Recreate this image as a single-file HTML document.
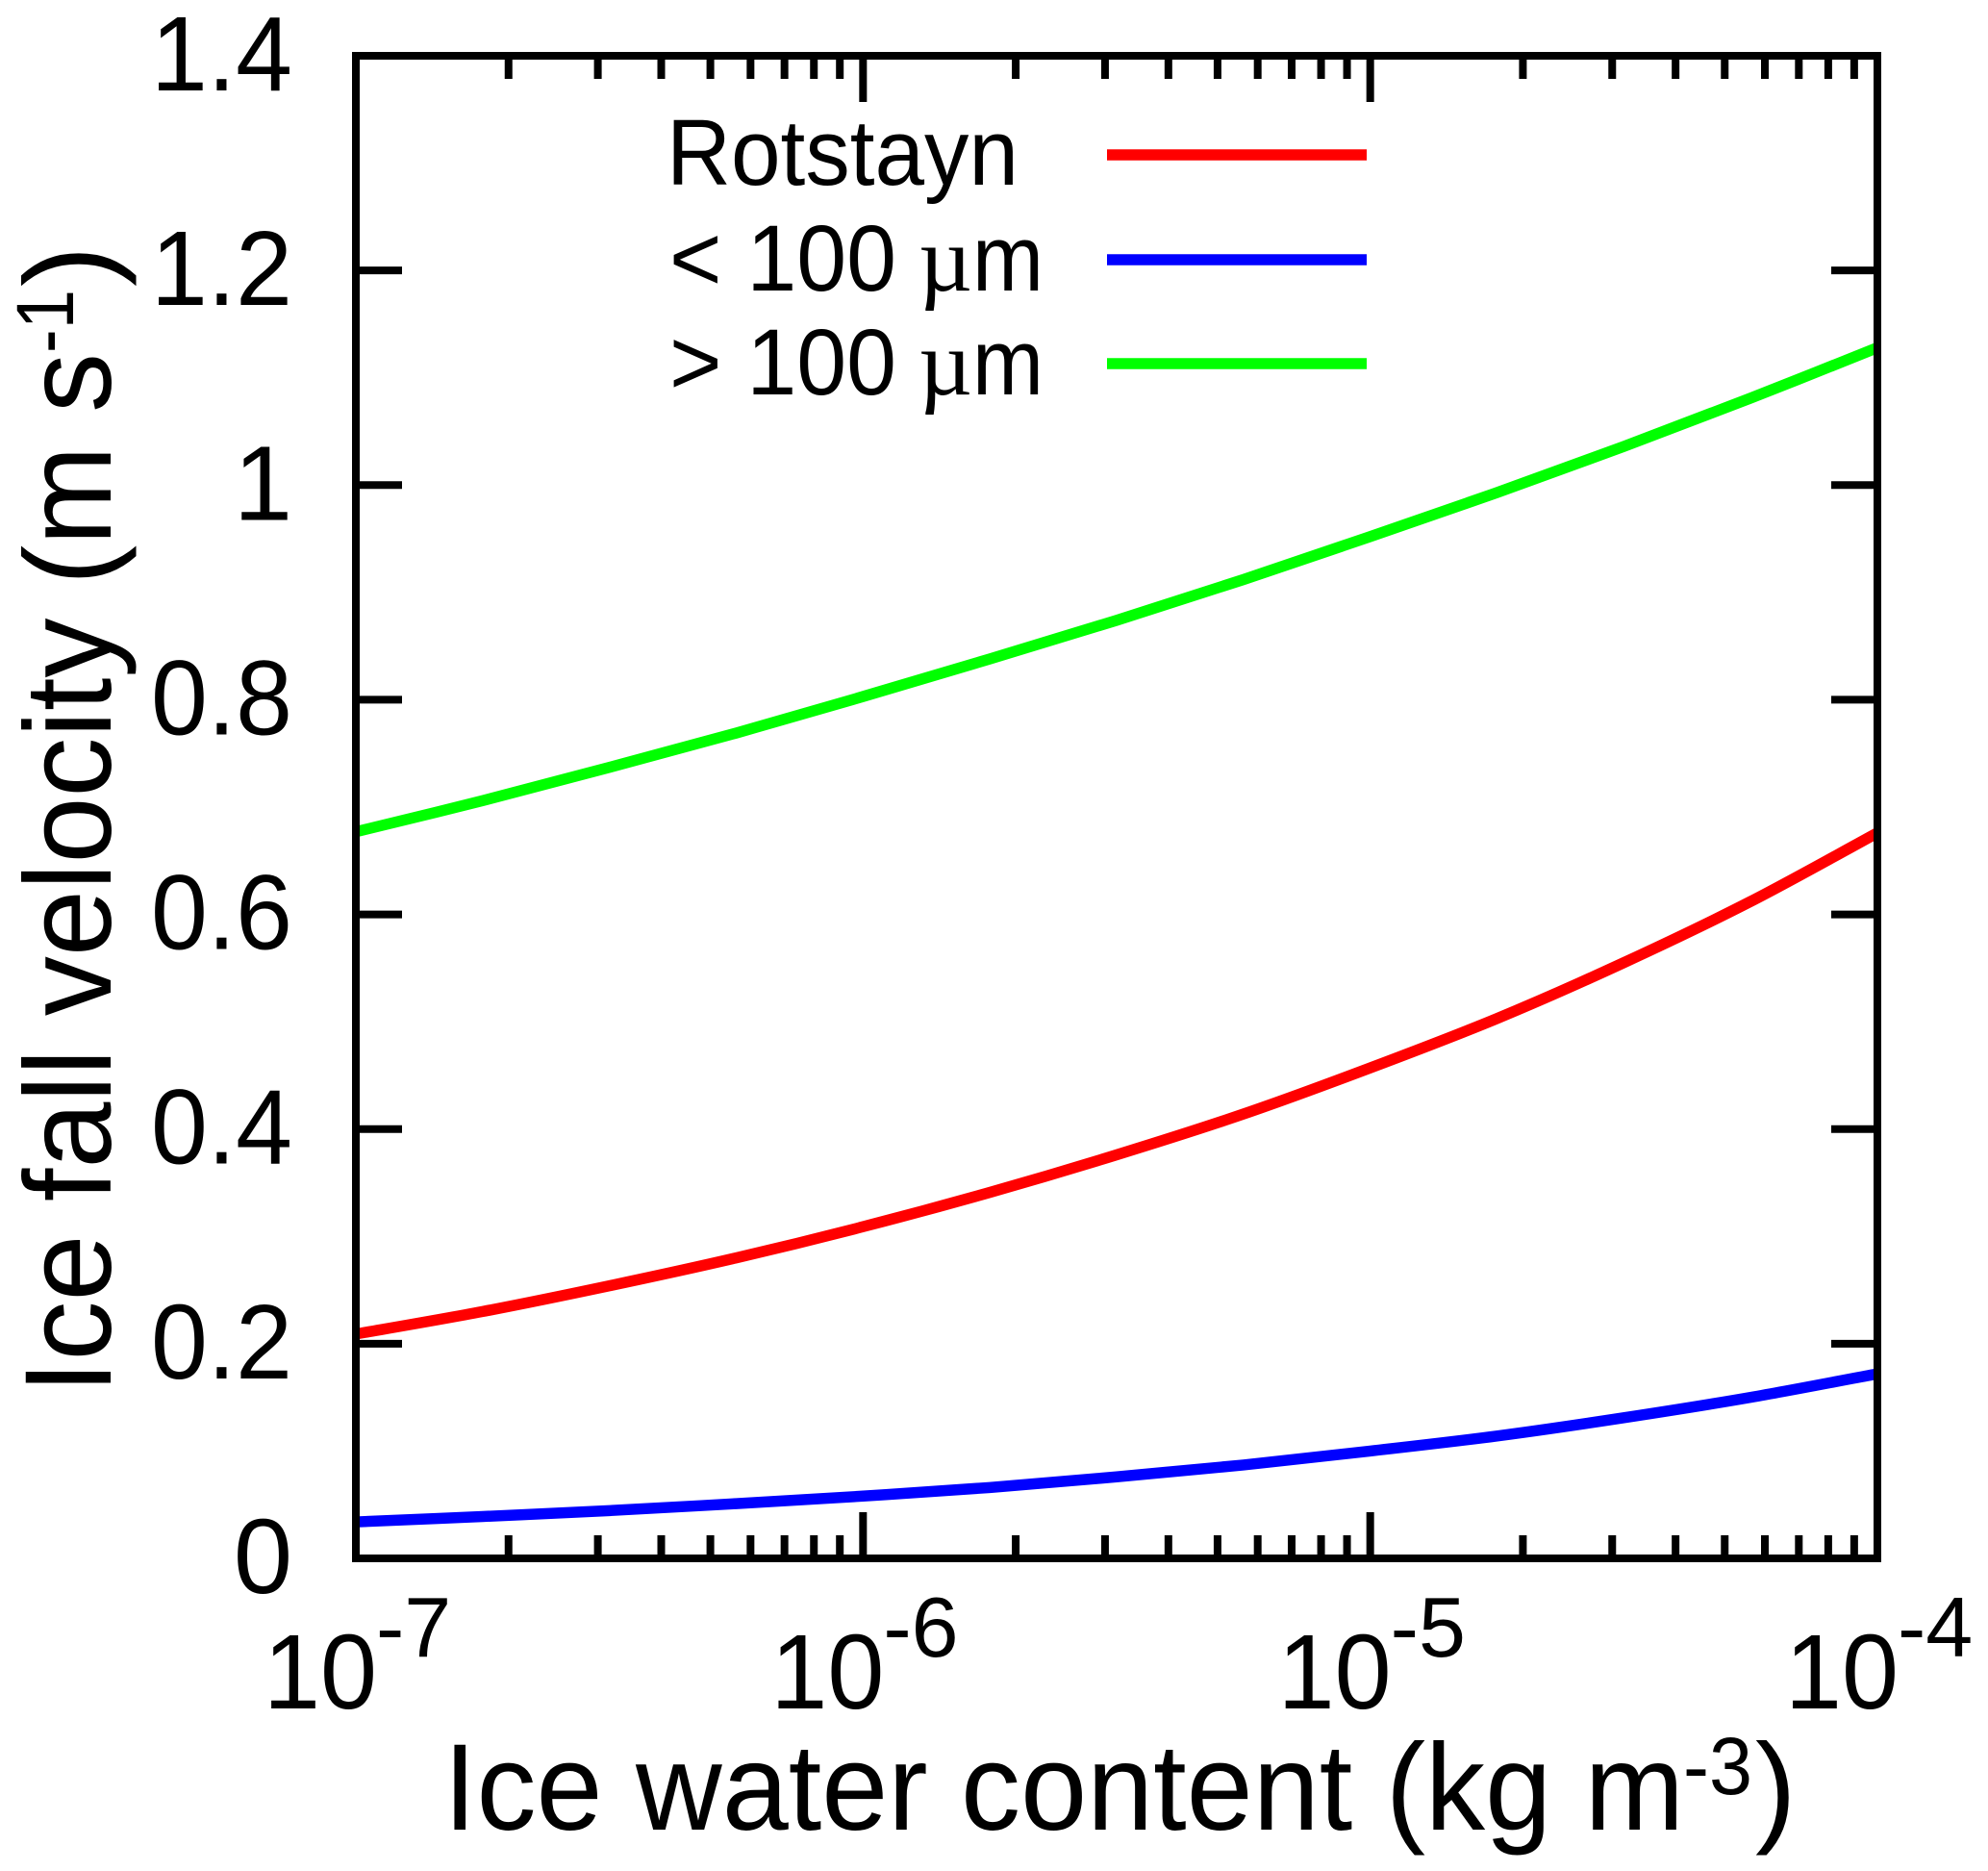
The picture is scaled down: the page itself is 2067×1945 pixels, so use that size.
<!DOCTYPE html>
<html>
<head>
<meta charset="utf-8">
<title>Ice fall velocity chart</title>
<style>
html,body{margin:0;padding:0;background:#fff;}
svg{display:block;}
text{font-family:"Liberation Sans",sans-serif;fill:#000;}
</style>
</head>
<body>
<svg id="chart" xmlns="http://www.w3.org/2000/svg" width="2067" height="1945" viewBox="0 0 2067 1945">
<rect x="0" y="0" width="2067" height="1945" fill="#fff"/>
<defs><clipPath id="plot-clip"><rect x="370" y="58" width="1582" height="1562"/></clipPath></defs>
<g id="series" clip-path="url(#plot-clip)"></g>
<g id="ticks"></g>
<rect x="370" y="58" width="1582" height="1562" fill="none" stroke="#000" stroke-width="8"/>
<g id="tick-labels"></g>

<g>
<text x="461" y="1902" font-size="128" textLength="1290" lengthAdjust="spacingAndGlyphs">Ice water content (kg m</text>
<text x="1750" y="1865" font-size="84" textLength="72" lengthAdjust="spacingAndGlyphs">-3</text>
<text x="1825" y="1902" font-size="128">)</text>
</g>
<g>
<text transform="translate(115,1449) rotate(-90)" x="0" y="0" font-size="128" textLength="1082" lengthAdjust="spacingAndGlyphs">Ice fall velocity (m s</text>
<text transform="translate(76,367) rotate(-90)" x="0" y="0" font-size="84" textLength="66" lengthAdjust="spacingAndGlyphs">-1</text>
<text transform="translate(115,298) rotate(-90)" x="0" y="0" font-size="128">)</text>
</g>

<g>
<g>
<text x="693" y="192" font-size="97" textLength="366" lengthAdjust="spacingAndGlyphs">Rotstayn</text>
<line x1="1151" y1="161" x2="1421" y2="161" stroke="#ff0000" stroke-width="11.5"/>
</g>
<g>
<text x="696" y="302" font-size="97" textLength="236" lengthAdjust="spacingAndGlyphs">&lt; 100</text>
<text x="955" y="302" font-size="97" style="font-family:'Liberation Serif',serif">µ</text>
<text x="1011" y="302" font-size="97" textLength="74" lengthAdjust="spacingAndGlyphs">m</text>
<line x1="1151" y1="270" x2="1421" y2="270" stroke="#0000ff" stroke-width="11.5"/>
</g>
<g>
<text x="696" y="410" font-size="97" textLength="236" lengthAdjust="spacingAndGlyphs">&gt; 100</text>
<text x="955" y="410" font-size="97" style="font-family:'Liberation Serif',serif">µ</text>
<text x="1011" y="410" font-size="97" textLength="74" lengthAdjust="spacingAndGlyphs">m</text>
<line x1="1151" y1="378" x2="1421" y2="378" stroke="#00ff00" stroke-width="11.5"/>
</g>
</g>
</svg>
<script>
var logIwc = [-7,-6.75,-6.5,-6.25,-6,-5.75,-5.5,-5.25,-5,-4.75,-4.5,-4.25,-4];
var rotstaynValues = [0.209,0.230,0.254,0.280,0.309,0.341,0.376,0.414,0.457,0.503,0.555,0.612,0.676];
var below100Values = [0.034,0.039,0.0445,0.051,0.058,0.066,0.076,0.087,0.100,0.114,0.131,0.150,0.172];
var above100Values = [0.677,0.706,0.737,0.769,0.803,0.838,0.874,0.912,0.952,0.993,1.036,1.081,1.128];
var yTickValues = [0,0.2,0.4,0.6,0.8,1,1.2,1.4];
var yTickLabels = ["0","0.2","0.4","0.6","0.8","1","1.2","1.4"];
var xDecades = [-7,-6,-5,-4];
var xExponents = ["-7","-6","-5","-4"];
var minorMultipliers = [2,3,4,5,6,7,8,9];

var NS = "http://www.w3.org/2000/svg";
var L = 370, R = 1952, T = 58, B = 1620;
function xScale(lg){ return L + (lg + 7) / 3 * (R - L); }
function yScale(v){ return B - v / 1.4 * (B - T); }
function mk(tag, parent){
  var e = document.createElementNS(NS, tag);
  parent.appendChild(e);
  return e;
}
function drawTick(x1, y1, x2, y2, name){
  var t = mk("line", ticksGroup);
  t.setAttribute("x1", x1); t.setAttribute("y1", y1);
  t.setAttribute("x2", x2); t.setAttribute("y2", y2);
  t.setAttribute("stroke", "#000"); t.setAttribute("stroke-width", "8");
  
  
}
var seriesGroup = document.getElementById("series");
var ticksGroup = document.getElementById("ticks");
var labelsGroup = document.getElementById("tick-labels");

function smoothPath(values){
  var xs = logIwc.map(xScale);
  var ys = values.map(yScale);
  var d = "M" + xs[0].toFixed(2) + " " + ys[0].toFixed(2);
  for (var i = 0; i < xs.length - 1; i++) {
    var a = Math.max(i - 1, 0), b = Math.min(i + 2, xs.length - 1);
    var c1x = xs[i] + (xs[i + 1] - xs[a]) / 6;
    var c1y = ys[i] + (ys[i + 1] - ys[a]) / 6;
    var c2x = xs[i + 1] - (xs[b] - xs[i]) / 6;
    var c2y = ys[i + 1] - (ys[b] - ys[i]) / 6;
    d += "C" + c1x.toFixed(2) + " " + c1y.toFixed(2) + " " + c2x.toFixed(2) + " " + c2y.toFixed(2) + " " + xs[i + 1].toFixed(2) + " " + ys[i + 1].toFixed(2);
  }
  return d;
}
function drawSeries(values, color, name){
  var p = mk("path", seriesGroup);
  p.setAttribute("d", smoothPath(values));
  p.setAttribute("fill", "none");
  p.setAttribute("stroke", color);
  p.setAttribute("stroke-width", "11.5");
  p.setAttribute("stroke-linejoin", "round");
  
  
}
drawSeries(rotstaynValues, "#ff0000", "line-rotstayn");
drawSeries(below100Values, "#0000ff", "line-below-100-um");
drawSeries(above100Values, "#00ff00", "line-above-100-um");

yTickValues.forEach(function(v, i){
  var y = yScale(v);
  drawTick(L, y, L + 48, y, "y-tick-left");
  drawTick(R, y, R - 48, y, "y-tick-right");
  var s = yTickLabels[i];
  var t = mk("text", labelsGroup);
  t.setAttribute("x", 304);
  t.setAttribute("y", y + 36);
  t.setAttribute("font-size", "110");
  t.setAttribute("text-anchor", "end");
  if (s.length > 1) {
    t.setAttribute("textLength", "147");
    t.setAttribute("lengthAdjust", "spacingAndGlyphs");
  }
  t.textContent = s;
  
  
});

xDecades.forEach(function(d, i){
  var x = xScale(d);
  if (i > 0 && i < xDecades.length - 1) {
    drawTick(x, B, x, B - 48, "x-major-tick-bottom");
    drawTick(x, T, x, T + 48, "x-major-tick-top");
  }
  if (i < xDecades.length - 1) {
    minorMultipliers.forEach(function(m){
      var mx = xScale(d + Math.log10(m));
      drawTick(mx, B, mx, B - 24, "x-minor-tick-bottom");
      drawTick(mx, T, mx, T + 24, "x-minor-tick-top");
    });
  }
  var base = mk("text", labelsGroup);
  base.setAttribute("x", x - 96);
  base.setAttribute("y", 1776);
  base.setAttribute("font-size", "110");
  base.setAttribute("textLength", "118");
  base.setAttribute("lengthAdjust", "spacingAndGlyphs");
  base.textContent = "10";
  
  
  var ex = mk("text", labelsGroup);
  ex.setAttribute("x", x + 21);
  ex.setAttribute("y", 1722);
  ex.setAttribute("font-size", "88");
  ex.textContent = xExponents[i];
  
  
});
</script>
</body>
</html>
